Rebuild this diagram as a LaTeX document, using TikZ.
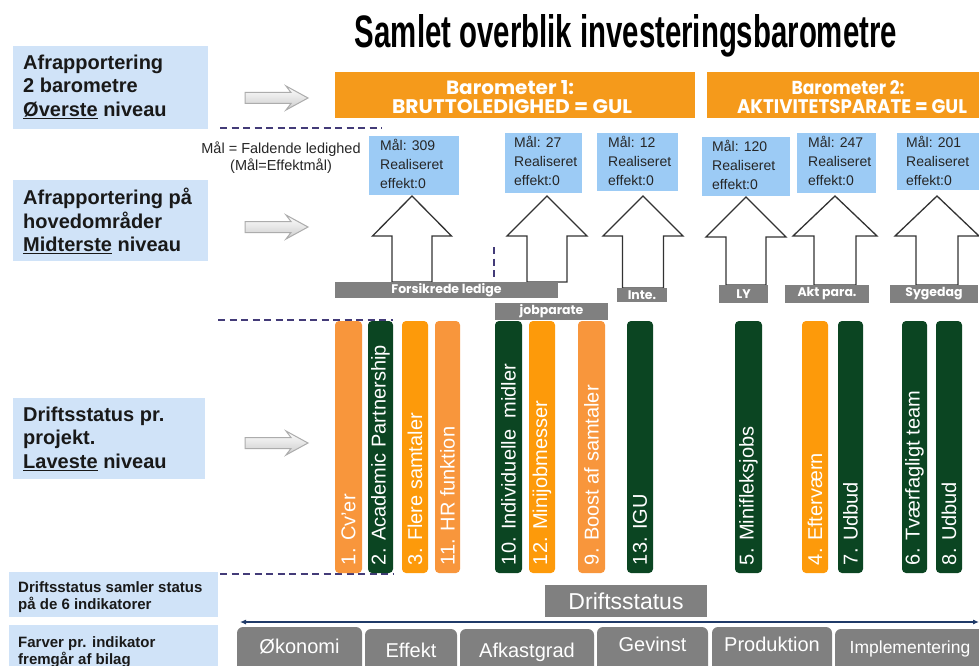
\documentclass[tikz,border=0pt]{standalone}
\usepackage{fontspec}
\setmainfont{Liberation Sans}
\newfontfamily\gothic{Poppins}
\usepackage{graphicx}
\usetikzlibrary{arrows.meta}
\definecolor{lblue}{HTML}{D0E3F8}
\definecolor{gblue}{HTML}{9CCBF5}
\definecolor{baror}{HTML}{F59A1B}
\definecolor{orA}{HTML}{F8963C}
\definecolor{orB}{HTML}{FD9A0A}
\definecolor{dgreen}{HTML}{0B4522}
\definecolor{lgrey}{HTML}{808080}
\definecolor{dashc}{HTML}{433B78}
\definecolor{navy}{HTML}{1F3A68}
\newcommand{\RB}[7]{%
 \pgfmathsetmacro\RBcx{(#2+#4)/2}%
 \pgfmathsetmacro\RBcy{(#3+#5)/2}%
 \pgfmathsetmacro\RBw{#4-#2}%
 \pgfmathsetmacro\RBh{#5-#3}%
 \node[#6,minimum width=\RBw pt,minimum height=\RBh pt] (#1) at (\RBcx,\RBcy) {#7};}
\newcommand{\UPA}[6]{%
 \draw[uparrow] (#1-#4,#6) -- (#1-#4,#5) -- (#1-#3,#5) -- (#1,#2) -- (#1+#3,#5) -- (#1+#4,#5) -- (#1+#4,#6) -- cycle;}
\newcommand{\LA}[1]{%
 \draw[harrow] (245,#1-5.5) -- (291,#1-5.5) -- (286,#1-12) -- (308,#1) -- (286,#1+12) -- (291,#1+5.5) -- (245,#1+5.5) -- cycle;}
\newcommand{\BAR}[5]{%
 \RB{#1}{#2}{321}{#3}{573}{#4}{}%
 \node[bartext] (#1t) at ([yshift=8pt]#1.south) {#5};}
\newcommand{\TAB}[7]{%
 \fill[tabfill] (#2,666) -- (#2,#4) -- (#3,#4) -- (#3,666);
 \node[tabtext, anchor=base, font=\fontsize{#6pt}{#6pt}\selectfont] (#1) at ({(#2+#3)/2},#7) {#5};}
\tikzset{
 lbox/.style={fill=lblue, inner sep=0pt, outer sep=0pt},
 ltext/.style={inner sep=0pt, anchor=north west, align=left, font=\bfseries\fontsize{20pt}{23.5pt}\selectfont, text=black!90},
 ltextsm/.style={inner sep=0pt, anchor=north west, align=left, font=\bfseries\fontsize{15pt}{17.5pt}\selectfont, text=black!90},
 baro/.style={fill=baror, inner sep=0pt},
 gbox/.style={fill=gblue, inner sep=0pt},
 gtext/.style={inner sep=0pt, anchor=north west, align=left, font=\fontsize{14pt}{19pt}\selectfont, text=black!85},
 glab/.style={fill=lgrey, inner sep=0pt, text=white, font=\gothic\bfseries\fontsize{12.5pt}{12.5pt}\selectfont},
 barA/.style={fill=orA, rounded corners=4pt, inner sep=0pt},
 barB/.style={fill=orB, rounded corners=4pt, inner sep=0pt},
 barG/.style={fill=dgreen, rounded corners=4pt, inner sep=0pt},
 bartext/.style={rotate=90, anchor=west, inner sep=0pt, text=white, font=\fontsize{20pt}{20pt}\selectfont},
 uparrow/.style={draw=black!80, fill=white, line width=1.3pt, line join=miter},
 harrow/.style={draw=gray!65, top color=white, bottom color=gray!40, line width=1pt},
 dashln/.style={draw=dashc, line width=2.2pt, dash pattern=on 7pt off 4.5pt},
 tabfill/.style={fill=lgrey, rounded corners=6pt},
 tabtext/.style={text=white, inner sep=0pt},
 dbox/.style={fill=lgrey, inner sep=0pt, text=white, font=\fontsize{23pt}{23pt}\selectfont},
}
\begin{document}
\begin{tikzpicture}[x=1pt,y=-1pt]
\useasboundingbox (0,0) rectangle (979,666);
\fill[white] (0,0) rectangle (979,666);
% title
\node[anchor=base, inner sep=0pt] (title) at (626,48) {\resizebox{542pt}{33pt}{\bfseries Samlet overblik investeringsbarometre}};
% left boxes
\RB{L1}{13}{46}{208}{129}{lbox}{}
\node[ltext] (L1t) at (23,54.5) {Afrapportering\\2 barometre\\\underline{Øverste} niveau};
\RB{L2}{13}{180}{208}{261}{lbox}{}
\node[ltext] (L2t) at (23,188) {Afrapportering på\\hovedområder\\\underline{Midterste} niveau};
\RB{L3}{13}{398}{205}{479}{lbox}{}
\node[ltext] (L3t) at (23,406.5) {Driftsstatus pr.\\projekt.\\\underline{Laveste} niveau};
\RB{L4}{9}{572}{218}{617}{lbox}{}
\node[ltextsm] (L4t) at (18,581) {Driftsstatus samler status\\på de 6 indikatorer};
\RB{L5}{9}{625}{218}{670}{lbox}{}
\node[ltextsm] (L5t) at (18,636) {Farver pr. indikator\\fremgår af bilag};
% left grey arrows
\LA{98}
\LA{227}
\LA{443}
% barometers
\RB{baro1}{335}{72}{695}{118}{baro}{}
\node[anchor=base, inner sep=0pt] (baro1a) at (510,95) {\resizebox{128pt}{14pt}{\color{white}\gothic\bfseries Barometer 1:}};
\node[anchor=base, inner sep=0pt] (baro1b) at (512,114) {\resizebox{240pt}{14pt}{\color{white}\gothic\bfseries BRUTTOLEDIGHED = GUL}};
\RB{baro2}{707}{72}{979}{118}{baro}{}
\node[anchor=base, inner sep=0pt] (baro2a) at (848,95) {\resizebox{113pt}{14pt}{\color{white}\gothic\bfseries Barometer 2:}};
\node[anchor=base, inner sep=0pt] (baro2b) at (852,114) {\resizebox{230pt}{14pt}{\color{white}\gothic\bfseries AKTIVITETSPARATE = GUL}};
% dashed lines
\coordinate (d1a) at (220,128); \coordinate (d1b) at (382,128);
\draw[dashln] (d1a) -- (d1b);
\coordinate (d2a) at (218,320); \coordinate (d2b) at (393,320);
\draw[dashln] (d2a) -- (d2b);
\coordinate (d3a) at (220,574); \coordinate (d3b) at (393,574);
\draw[dashln] (d3a) -- (d3b);
\coordinate (d4a) at (494,247); \coordinate (d4b) at (494,283);
\draw[dashln] (d4a) -- (d4b);
% note
\node[inner sep=0pt, anchor=north, align=center, font=\fontsize{14.5pt}{17pt}\selectfont, text=black!85] (note) at (281,141.5) {Mål = Faldende ledighed\\(Mål=Effektmål)};
% goal boxes
\RB{B1}{369}{136}{459}{195}{gbox}{}
\node[gtext] (B1t) at (380,139.5) {Mål: 309\\Realiseret\\effekt:0};
\RB{B2}{505}{133}{582}{193}{gbox}{}
\node[gtext] (B2t) at (514,136.5) {Mål: 27\\Realiseret\\effekt:0};
\RB{B3}{597}{133}{678}{191}{gbox}{}
\node[gtext] (B3t) at (608,136) {Mål: 12\\Realiseret\\effekt:0};
\RB{B4}{702}{137}{790}{196}{gbox}{}
\node[gtext] (B4t) at (712,140.5) {Mål: 120\\Realiseret\\effekt:0};
\RB{B5}{797}{133}{876}{193}{gbox}{}
\node[gtext] (B5t) at (808,136.5) {Mål: 247\\Realiseret\\effekt:0};
\RB{B6}{897}{133}{979}{190}{gbox}{}
\node[gtext] (B6t) at (906,136) {Mål: 201\\Realiseret\\effekt:0};
% up arrows
\UPA{412}{196}{39.5}{20}{236}{282}
\UPA{547}{196}{40}{20}{236}{282}
\UPA{643}{196}{40}{20.5}{236}{288}
\UPA{746}{197}{40}{20}{237}{285}
\UPA{835}{196}{42}{21}{236}{285}
\UPA{937}{196}{42}{21}{236}{285}
% grey labels
\RB{g1}{335}{282}{558}{298}{glab}{Forsikrede ledige}
\RB{g2}{495}{303}{608}{320}{glab}{jobparate}
\RB{g3}{617}{288}{667}{302}{glab}{Inte.}
\RB{g4}{719}{285}{768}{303}{glab}{LY}
\RB{g5}{785}{285}{869}{303}{glab}{Akt para.}
\RB{g6}{890}{285}{978}{303}{glab}{Sygedag}
% bars
\BAR{b1}{335}{362}{barA}{1. Cv'er}
\BAR{b2}{368}{393}{barG}{2. Academic Partnership}
\BAR{b3}{402}{428}{barB}{3. Flere samtaler}
\BAR{b4}{435}{460}{barA}{11. HR funktion}
\BAR{b5}{495}{522}{barG}{10. Individuelle\ \ midler}
\BAR{b6}{529}{555}{barB}{12. Minijobmesser}
\BAR{b7}{578}{605}{barA}{9. Boost af samtaler}
\BAR{b8}{627}{653}{barG}{13. IGU}
\BAR{b9}{735}{762}{barG}{5. Minifleksjobs}
\BAR{b10}{802}{828}{barB}{4. Efterværn}
\BAR{b11}{838}{863}{barG}{7. Udbud}
\BAR{b12}{902}{927}{barG}{6. Tværfagligt team}
\BAR{b13}{936}{962}{barG}{8. Udbud}
% driftsstatus
\RB{drift}{545}{585}{707}{617}{dbox}{Driftsstatus}
% double arrow
\coordinate (la) at (240,622); \coordinate (ra) at (979,622);
\draw[navy, line width=1.1pt, {Latex[length=6pt,width=5pt]}-{Latex[length=6pt,width=5pt]}] (la) -- (ra);
% tabs
\TAB{t1}{237}{362}{627}{Økonomi}{20}{653}
\TAB{t2}{365}{457}{629}{Effekt}{20}{657}
\TAB{t3}{460}{594}{629}{Afkastgrad}{20}{657}
\TAB{t4}{597}{708}{627}{Gevinst}{20}{651}
\TAB{t5}{712}{832}{627}{Produktion}{20}{651}
\TAB{t6}{835}{985}{629}{Implementering}{17.5}{653}
\end{tikzpicture}
\end{document}
